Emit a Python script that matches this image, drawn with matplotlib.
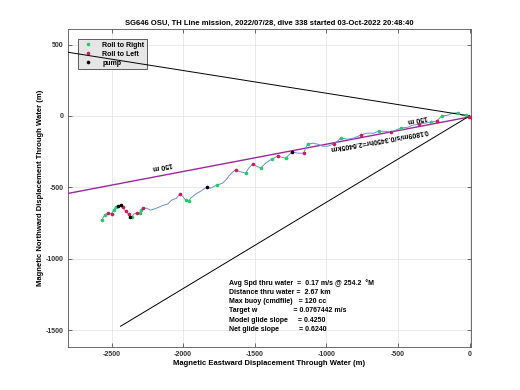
import matplotlib
matplotlib.use('Agg')

import numpy as np
import matplotlib.pyplot as plt

# ---- data ----
title = "SG646 OSU, TH Line mission, 2022/07/28, dive 338 started 03-Oct-2022 20:48:40"

# glider track (east, north displacement through water, m)
track_x = [-2566, -2549, -2528, -2500, -2486, -2472, -2458, -2437, -2423, -2402,
           -2381, -2374, -2360, -2346, -2325, -2304, -2297, -2283, -2255, -2228,
           -2186, -2137, -2109, -2081, -2046, -2025, -2004, -1983, -1962, -1948,
           -1913, -1878, -1837, -1809, -1767, -1725, -1697, -1676, -1655, -1634,
           -1613, -1564, -1543, -1515, -1487, -1459, -1425, -1383, -1341, -1313,
           -1285, -1239, -1201, -1159, -1145, -1131, -1096, -1061, -1027, -992,
           -950, -922, -901, -852, -810, -761, -719, -670, -635, -594,
           -552, -517, -482, -433, -398, -356, -314, -272, -230, -196,
           -154, -119, -84, -56, -28, -7, 7, 14]
track_y = [-727, -695, -681, -685, -660, -639, -632, -625, -639, -667,
           -688, -709, -709, -688, -681, -681, -660, -646, -646, -660,
           -646, -625, -618, -590, -576, -548, -562, -590, -597, -576,
           -548, -527, -499, -506, -485, -471, -443, -415, -394, -377,
           -387, -401, -366, -338, -352, -366, -331, -303, -282, -289,
           -296, -251, -261, -261, -226, -198, -191, -198, -212, -212,
           -198, -177, -156, -163, -156, -135, -121, -121, -107, -107,
           -114, -100, -86, -79, -65, -58, -51, -44, -37, -2,
           5, 19, 22, 5, 5, -9, -9, -16]
# g = roll to right, r = roll to left, k = pump, '' = none
track_tag = ['g', 'g', 'r', 'r', 'g', 'g', 'k', 'k', 'r', 'r',
             'r', 'k', 'g', '', 'r', 'g', 'g', 'r', '', '',
             '', '', '', '', '', 'r', '', 'g', 'g', '',
             '', '', 'k', '', 'g', '', '', '', '', 'r',
             '', 'g', '', 'r', '', 'g', '', 'g', 'r', '',
             'g', 'k', '', 'r', '', 'g', '', '', '', '',
             'r', '', 'g', '', '', 'r', '', '', 'g', '',
             'r', '', 'g', '', '', 'r', '', 'g', 'r', 'g',
             '', '', 'g', '', 'g', 'r', 'r', 'r']

# straight reference lines
heading_x = [-2900, 0]
heading_y = [461, 0]
glide_x = [-2437, 0]
glide_y = [-1473, 0]
net_x = [-2800, -5]
net_y = [-542, -8]

stats = ["Avg Spd thru water  =  0.17 m/s @ 254.2  \u00b0M",
         "Distance thru water =  2.67 km",
         "Max buoy (cmdfile)   = 120 cc",
         "Target w                  = 0.0767442 m/s",
         "Model glide slope     = 0.4250",
         "Net glide slope          = 0.6240"]

plt.rcParams['font.family'] = ['Liberation Sans', 'DejaVu Sans']
plt.rcParams['axes.unicode_minus'] = False

fig = plt.figure(figsize=(5.2, 3.9), dpi=100)
ax = fig.add_axes([0.13, 0.11, 0.775, 0.815])

tx = np.array(track_x)
ty = np.array(track_y)
tag = np.array(track_tag)

ax.plot(heading_x, heading_y, color='black', lw=0.7, zorder=4)
ax.plot(glide_x, glide_y, color='black', lw=0.7, zorder=4)
ax.plot(net_x, net_y, color='#9a2a9a', lw=1.0, zorder=3)

ax.plot(tx, ty, color='#6a8fd8', lw=0.7, zorder=3)
ax.plot(tx[tag == 'g'], ty[tag == 'g'], 'o', color='#22cc66', ms=2.6, mew=0,
        label='Roll to Right', zorder=5)
ax.plot(tx[tag == 'r'], ty[tag == 'r'], 'o', color='#dc1450', ms=2.6, mew=0,
        label='Roll to Left', zorder=5)
ax.plot(tx[tag == 'k'], ty[tag == 'k'], 'o', color='black', ms=2.6, mew=0,
        label='pump', zorder=5)

# distance annotations (upside down, MATLAB style)
ax.text(-2146, -345, "150 m", rotation=191, fontsize=5, fontweight='bold',
        ha='center', va='center', rotation_mode='anchor')
ax.text(-365, -14, "150 m", rotation=191, fontsize=5, fontweight='bold',
        ha='center', va='center', rotation_mode='anchor')
ax.text(-635, -163, "0.1809m/s/0.3450hr=2.6405km", rotation=190, fontsize=5,
        fontweight='bold', ha='center', va='center', rotation_mode='anchor')

ax.text(0.40, 0.215, "\n".join(stats), transform=ax.transAxes, fontsize=5,
        fontweight='bold', va='top', ha='left', linespacing=1.45)

ax.set_xlim(-2807, 7)
ax.set_ylim(-1619, 607)
ax.set_xticks([-2500, -2000, -1500, -1000, -500, 0])
ax.set_yticks([-1500, -1000, -500, 0, 500])
ax.grid(True, color='#e2e2e2', lw=0.5)
ax.set_axisbelow(True)
ax.tick_params(direction='in', length=3, width=0.5, labelsize=5,
               top=True, right=True, colors='#333333', pad=3)
for lbl in ax.get_xticklabels() + ax.get_yticklabels():
    lbl.set_fontweight('bold')
for s in ax.spines.values():
    s.set_color('#555555')
    s.set_linewidth(0.6)

ax.set_title(title, fontsize=5.5, fontweight='bold', pad=3)
ax.set_xlabel("Magnetic Eastward Displacement Through Water (m)", fontsize=5.5,
              fontweight='bold', labelpad=1.5)
ax.set_ylabel("Magnetic Northward Displacement Through Water (m)", fontsize=5.5,
              fontweight='bold', labelpad=1)

leg = ax.legend(loc='upper left', bbox_to_anchor=(0.02, 0.975),
                prop={'weight': 'bold', 'size': 5}, fancybox=False,
                framealpha=1, facecolor='#e6e6e6', edgecolor='#444444',
                handlelength=2.2, handletextpad=1.0, borderpad=0.35,
                labelspacing=0.3, borderaxespad=0.3)
leg.get_frame().set_linewidth(0.6)
leg.set_zorder(3.5)

fig.savefig("out.png", dpi=100)
